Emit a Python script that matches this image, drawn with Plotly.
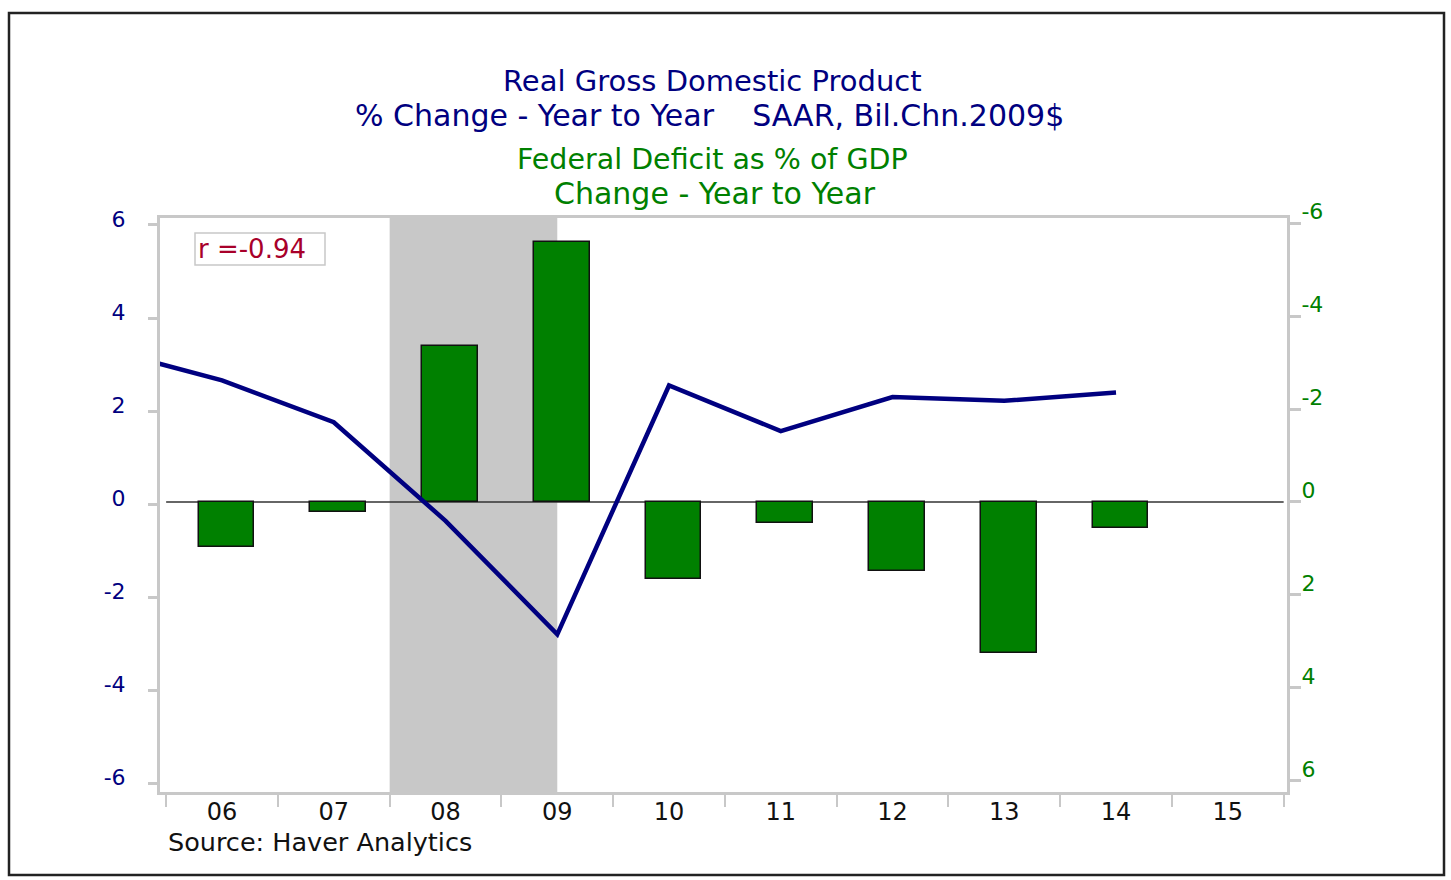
import plotly.graph_objects as go

# ---- data ----
gdp_years = [2005, 2006, 2007, 2008, 2009, 2010, 2011, 2012, 2013, 2014]
gdp_yoy = [3.30, 2.66, 1.76, -0.36, -2.80, 2.55, 1.57, 2.30, 2.22, 2.40]

deficit_years = [2006, 2007, 2008, 2009, 2010, 2011, 2012, 2013, 2014]
deficit_chg = [0.97, 0.22, -3.35, -5.59, 1.66, 0.46, 1.48, 3.24, 0.56]

year_labels = ["06", "07", "08", "09", "10", "11", "12", "13", "14", "15"]
label_years = [2006, 2007, 2008, 2009, 2010, 2011, 2012, 2013, 2014, 2015]
left_ticks = [-6, -4, -2, 0, 2, 4, 6]
right_ticks = [-6, -4, -2, 0, 2, 4, 6]
recession = (2008.0, 2009.5)
r_text = "r =-0.94"

# ---- layout geometry (pixels) ----
W, H = 1451, 880
L, R, T, B = 160, 1287, 218, 792
NAVY = "#000080"
GREEN = "#008000"
GRAY = "#C8C8C8"
FONT = "DejaVu Sans"


def px(x):
    return (x - L) / (R - L)


def py(y):
    return (B - y) / (B - T)


fig = go.Figure()

# bars on the right (reversed) axis
fig.add_trace(go.Bar(
    x=[y + 0.5 for y in deficit_years], y=deficit_chg,
    width=0.5, offset=-0.21,
    marker=dict(color=GREEN, line=dict(color="#111111", width=1.5)),
    yaxis="y", showlegend=False, hoverinfo="skip"))

# GDP line on the left axis (drawn above bars)
fig.add_trace(go.Scatter(
    x=[y + 0.5 for y in gdp_years], y=gdp_yoy, mode="lines",
    line=dict(color=NAVY, width=4.5), yaxis="y2", showlegend=False,
    cliponaxis=True, hoverinfo="skip"))

shapes = [
    # recession shading
    dict(type="rect", xref="x", yref="paper", x0=recession[0], x1=recession[1],
         y0=0, y1=1, fillcolor=GRAY, line=dict(width=0), layer="below"),
    # zero line
    dict(type="line", xref="x", yref="y", x0=2006, x1=2016, y0=0, y1=0,
         line=dict(color="#333333", width=1.5), layer="below"),
    # r box
    dict(type="rect", xref="paper", yref="paper", x0=px(195), x1=px(325),
         y0=py(265), y1=py(233), line=dict(color=GRAY, width=1.5),
         fillcolor="white", layer="above"),
    # outer border
    dict(type="rect", xref="paper", yref="paper", x0=px(9), x1=px(1444),
         y0=py(875), y1=py(13), line=dict(color="#222222", width=2.5),
         layer="above"),
]

annotations = [
    dict(text="Real Gross Domestic Product", x=px(712), y=py(81),
         font=dict(color=NAVY, size=29, family=FONT)),
    dict(text="% Change - Year to Year" + "\u00a0" * 4 + "SAAR, Bil.Chn.2009$",
         x=px(709), y=py(116), font=dict(color=NAVY, size=30, family=FONT)),
    dict(text="Federal Deficit as % of GDP", x=px(712), y=py(160),
         font=dict(color=GREEN, size=28.5, family=FONT)),
    dict(text="Change - Year to Year", x=px(715), y=py(194),
         font=dict(color=GREEN, size=30, family=FONT)),
    dict(text=r_text, x=px(196), y=py(249), xanchor="left",
         font=dict(color="#A8002A", size=26, family=FONT)),
    dict(text="Source: Haver Analytics", x=px(166), y=py(842), xanchor="left",
         font=dict(color="#111111", size=25.5, family=FONT)),
]
for a in annotations:
    a.update(xref="paper", yref="paper", showarrow=False,
             yanchor="middle", xanchor=a.get("xanchor", "center"))

fig.update_layout(
    width=W, height=H,
    margin=dict(l=L, r=W - R, t=T, b=H - B, pad=0),
    paper_bgcolor="white", plot_bgcolor="white",
    bargap=0,
    shapes=shapes, annotations=annotations,
    xaxis=dict(
        range=[2005.945, 2016.03], tickvals=[y + 0.5 for y in label_years],
        ticktext=year_labels, ticks="", showgrid=False, zeroline=False,
        showline=True, mirror=True, linecolor=GRAY, linewidth=3,
        tickfont=dict(color="#111111", size=24, family=FONT),
        ticklabelstandoff=-4,
        minor=dict(tickvals=list(range(2006, 2017)), ticks="outside",
                   ticklen=12, tickwidth=2, tickcolor=GRAY, showgrid=False),
    ),
    yaxis=dict(
        side="right", range=[6.24, -6.11], tickvals=right_ticks,
        ticktext=[str(v) for v in right_ticks],
        ticks="outside", ticklen=11, tickwidth=3, tickcolor=GRAY,
        showgrid=False, zeroline=False, showline=True, mirror=True,
        linecolor=GRAY, linewidth=3,
        tickfont=dict(color=GREEN, size=22, family=FONT),
        ticklabelshift=12, ticklabelstandoff=-4,
    ),
    yaxis2=dict(
        side="left", overlaying="y", range=[-6.19, 6.15], tickvals=left_ticks,
        ticktext=[str(v) for v in left_ticks],
        ticks="outside", ticklen=11, tickwidth=3, tickcolor=GRAY,
        showgrid=False, zeroline=False, showline=False,
        tickfont=dict(color=NAVY, size=22, family=FONT),
        ticklabelstandoff=18, ticklabelshift=-6,
    ),
)

fig.write_html("out.html", config={"displayModeBar": False},
               post_script="document.body.style.margin='0';")
